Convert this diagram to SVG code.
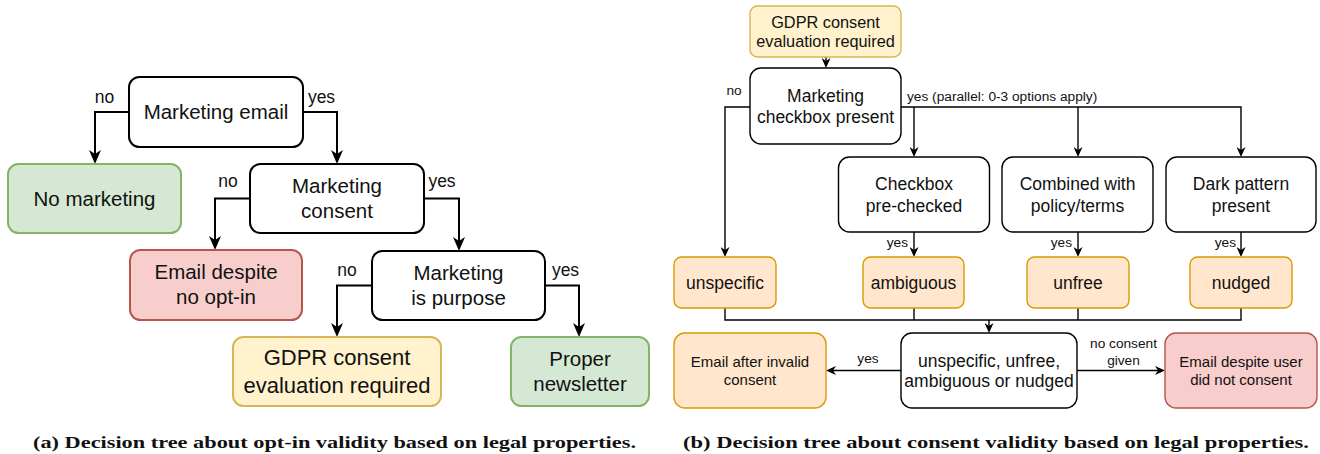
<svg xmlns="http://www.w3.org/2000/svg" width="1320" height="454" viewBox="0 0 1320 454">
  <style>
    text { font-family: "Liberation Sans", Arial, sans-serif; fill: #111; }
    .t-l { font-size: 20.5px; text-anchor: middle; }
    .t-g { font-size: 22px; text-anchor: middle; }
    .t-r { font-size: 17.5px; text-anchor: middle; }
    .t-s { font-size: 15px; text-anchor: middle; }
    .lab-l { font-size: 17.5px; text-anchor: middle; }
    .lab-r { font-size: 13.7px; }
    .cap { font-family: "Liberation Serif", "Times New Roman", serif; font-weight: bold; font-size: 17.5px; text-anchor: middle; }
    .box-l { fill: #fff; stroke: #000; stroke-width: 2; }
    .box-r { fill: #fff; stroke: #000; stroke-width: 1.4; }
    .green { fill: #d5e8d4; stroke: #82b366; }
    .red { fill: #f8cecc; stroke: #b85450; }
    .yellow { fill: #fff2cc; stroke: #d6b656; }
    .orange { fill: #ffe6cc; stroke: #d79b00; }
    .edge-l { fill: none; stroke: #000; stroke-width: 2; }
    .edge-r { fill: none; stroke: #000; stroke-width: 1.4; }
  </style>
  <defs>
    <marker id="arrowL" markerUnits="userSpaceOnUse" markerWidth="14" markerHeight="12" refX="10" refY="6" orient="auto" viewBox="0 0 14 12">
      <path d="M0,0 L14,6 L0,12 L4,6 Z" fill="#000"/>
    </marker>
    <marker id="arrowR" markerUnits="userSpaceOnUse" markerWidth="10" markerHeight="9" refX="7" refY="4.5" orient="auto" viewBox="0 0 10 9">
      <path d="M0,0 L10,4.5 L0,9 L3,4.5 Z" fill="#000"/>
    </marker>
  </defs>

  <rect width="1320" height="454" fill="#fff"/>

  <!-- (a) opt-in decision tree: connectors -->
  <g id="edges-a">
    <path class="edge-l" d="M129,112 H95 V160" marker-end="url(#arrowL)"/>
    <path class="edge-l" d="M303,112 H337 V160" marker-end="url(#arrowL)"/>
    <path class="edge-l" d="M250,198.5 H215 V246" marker-end="url(#arrowL)"/>
    <path class="edge-l" d="M424,198.5 H459 V247" marker-end="url(#arrowL)"/>
    <path class="edge-l" d="M372,285.5 H337 V333" marker-end="url(#arrowL)"/>
    <path class="edge-l" d="M545,285.5 H579 V333" marker-end="url(#arrowL)"/>
    <text class="lab-l" x="104.5" y="103">no</text>
    <text class="lab-l" x="321.5" y="103">yes</text>
    <text class="lab-l" x="228" y="187">no</text>
    <text class="lab-l" x="442" y="187">yes</text>
    <text class="lab-l" x="347" y="276">no</text>
    <text class="lab-l" x="565.5" y="276">yes</text>
  </g>

  <!-- (a) nodes -->
  <g id="a-marketing-email">
    <rect class="box-l" x="129" y="77" width="174" height="70" rx="10.5"/>
    <text class="t-l" x="216" y="119">Marketing email</text>
  </g>
  <g id="a-no-marketing">
    <rect class="box-l green" x="8" y="164" width="173" height="69" rx="10.5"/>
    <text class="t-l" x="94.5" y="206">No marketing</text>
  </g>
  <g id="a-marketing-consent">
    <rect class="box-l" x="250" y="164" width="174" height="69" rx="10.5"/>
    <text class="t-l" x="337" y="193">Marketing</text>
    <text class="t-l" x="337" y="218">consent</text>
  </g>
  <g id="a-email-despite">
    <rect class="box-l red" x="130" y="250" width="172" height="70" rx="10.5"/>
    <text class="t-l" x="216" y="279">Email despite</text>
    <text class="t-l" x="216" y="304">no opt-in</text>
  </g>
  <g id="a-marketing-purpose">
    <rect class="box-l" x="372" y="251" width="173" height="69" rx="10.5"/>
    <text class="t-l" x="458.5" y="280">Marketing</text>
    <text class="t-l" x="458.5" y="305">is purpose</text>
  </g>
  <g id="a-gdpr">
    <rect class="box-l yellow" x="233" y="337" width="208" height="69" rx="10.5"/>
    <text class="t-g" x="337" y="365">GDPR consent</text>
    <text class="t-g" x="337" y="393">evaluation required</text>
  </g>
  <g id="a-newsletter">
    <rect class="box-l green" x="511" y="337" width="138" height="69" rx="10.5"/>
    <text class="t-l" x="580" y="366">Proper</text>
    <text class="t-l" x="580" y="391">newsletter</text>
  </g>

  <!-- (b) consent decision tree: connectors -->
  <g id="edges-b">
    <path class="edge-r" d="M826,57 V65" marker-end="url(#arrowR)"/>
    <path class="edge-r" d="M750,107 H725 V254" marker-end="url(#arrowR)"/>
    <path class="edge-r" d="M901,107 H1241 V154" marker-end="url(#arrowR)"/>
    <path class="edge-r" d="M914,107 V154" marker-end="url(#arrowR)"/>
    <path class="edge-r" d="M1078,107 V154" marker-end="url(#arrowR)"/>
    <path class="edge-r" d="M914,232 V254" marker-end="url(#arrowR)"/>
    <path class="edge-r" d="M1078,232 V254" marker-end="url(#arrowR)"/>
    <path class="edge-r" d="M1241,232 V254" marker-end="url(#arrowR)"/>
    <path class="edge-r" d="M725,308 V320 H1241 V308"/>
    <path class="edge-r" d="M914,308 V320"/>
    <path class="edge-r" d="M1078,308 V320"/>
    <path class="edge-r" d="M989,320 V330" marker-end="url(#arrowR)"/>
    <path class="edge-r" d="M901,370.5 H829" marker-end="url(#arrowR)"/>
    <path class="edge-r" d="M1077,370.5 H1162" marker-end="url(#arrowR)"/>
    <text class="lab-r" x="734" y="95" text-anchor="middle">no</text>
    <text class="lab-r" x="907" y="101">yes (parallel: 0-3 options apply)</text>
    <text class="lab-r" x="908" y="247" text-anchor="end">yes</text>
    <text class="lab-r" x="1072" y="247" text-anchor="end">yes</text>
    <text class="lab-r" x="1236" y="247" text-anchor="end">yes</text>
    <text class="lab-r" x="868" y="363" text-anchor="middle">yes</text>
    <text class="lab-r" x="1123.5" y="348" text-anchor="middle">no consent</text>
    <text class="lab-r" x="1123.5" y="365" text-anchor="middle">given</text>
  </g>

  <!-- (b) nodes -->
  <g id="b-gdpr">
    <rect class="box-r yellow" x="750" y="6" width="151" height="51" rx="7.5"/>
    <text class="t-r" style="font-size:16.3px" x="825.5" y="27.5">GDPR consent</text>
    <text class="t-r" style="font-size:16.3px" x="825.5" y="47">evaluation required</text>
  </g>
  <g id="b-checkbox-present">
    <rect class="box-r" x="750" y="68" width="151" height="76" rx="11"/>
    <text class="t-r" x="825.5" y="101.5">Marketing</text>
    <text class="t-r" x="825.5" y="123">checkbox present</text>
  </g>
  <g id="b-prechecked">
    <rect class="box-r" x="838.5" y="157" width="151" height="75" rx="11"/>
    <text class="t-r" x="914" y="190">Checkbox</text>
    <text class="t-r" x="914" y="211.5">pre-checked</text>
  </g>
  <g id="b-combined">
    <rect class="box-r" x="1002" y="157" width="151" height="75" rx="11"/>
    <text class="t-r" x="1077.5" y="190">Combined with</text>
    <text class="t-r" x="1077.5" y="211.5">policy/terms</text>
  </g>
  <g id="b-dark-pattern">
    <rect class="box-r" x="1166" y="157" width="150" height="75" rx="11"/>
    <text class="t-r" x="1241" y="190">Dark pattern</text>
    <text class="t-r" x="1241" y="211.5">present</text>
  </g>
  <g id="b-unspecific">
    <rect class="box-r orange" x="674" y="257" width="102" height="51" rx="7.5"/>
    <text class="t-r" x="725" y="288.5">unspecific</text>
  </g>
  <g id="b-ambiguous">
    <rect class="box-r orange" x="863" y="257" width="101" height="51" rx="7.5"/>
    <text class="t-r" x="913.5" y="288.5">ambiguous</text>
  </g>
  <g id="b-unfree">
    <rect class="box-r orange" x="1027" y="257" width="102" height="51" rx="7.5"/>
    <text class="t-r" x="1078" y="288.5">unfree</text>
  </g>
  <g id="b-nudged">
    <rect class="box-r orange" x="1190" y="257" width="102" height="51" rx="7.5"/>
    <text class="t-r" x="1241" y="288.5">nudged</text>
  </g>
  <g id="b-any-invalid">
    <rect class="box-r" x="901" y="333" width="176" height="75" rx="11"/>
    <text class="t-r" x="989" y="367">unspecific, unfree,</text>
    <text class="t-r" x="989" y="387">ambiguous or nudged</text>
  </g>
  <g id="b-email-invalid">
    <rect class="box-r orange" x="674" y="333" width="152" height="75" rx="11"/>
    <text class="t-s" x="750" y="367">Email after invalid</text>
    <text class="t-s" x="750" y="385">consent</text>
  </g>
  <g id="b-email-no-consent">
    <rect class="box-r red" x="1165" y="333" width="152" height="75" rx="11"/>
    <text class="t-s" x="1241" y="367">Email despite user</text>
    <text class="t-s" x="1241" y="385">did not consent</text>
  </g>

  <!-- captions -->
  <text class="cap" x="334.5" y="448" textLength="603" lengthAdjust="spacingAndGlyphs">(a) Decision tree about opt-in validity based on legal properties.</text>
  <text class="cap" x="996" y="448" textLength="626" lengthAdjust="spacingAndGlyphs">(b) Decision tree about consent validity based on legal properties.</text>
</svg>
